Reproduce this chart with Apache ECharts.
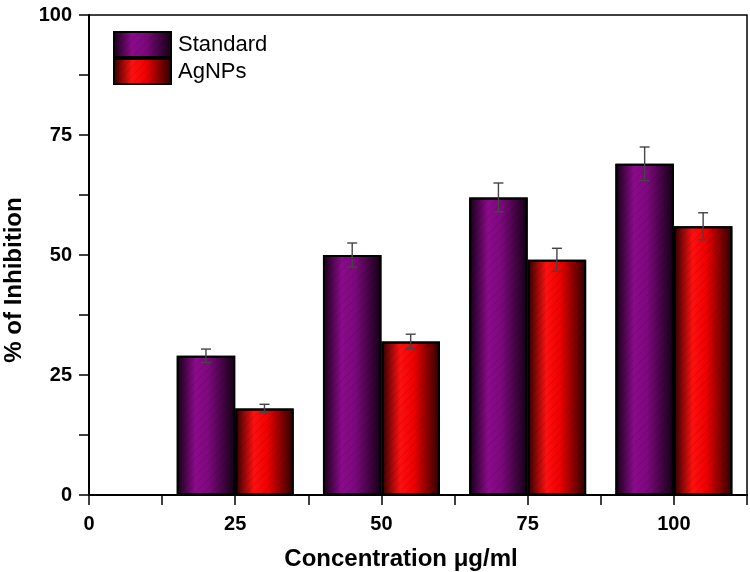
<!DOCTYPE html>
<html>
<head>
<meta charset="utf-8">
<script src="https://cdn.jsdelivr.net/npm/echarts@6/dist/echarts.min.js"></script>
<style>html,body{margin:0;padding:0;background:#fff}#c{width:750px;height:572px}</style>
</head>
<body>
<div id="c"></div>
<script>
const concentrations = [25, 50, 75, 100];
const standardValues = [29, 50, 62, 69];
const standardErrors = [1.4, 2.5, 3.0, 3.5];
const agnpsValues = [18, 32, 49, 56];
const agnpsErrors = [0.9, 1.5, 2.4, 2.8];
const xTicks = [0, 25, 50, 75, 100];
const yTicks = [0, 25, 50, 75, 100];

const barOffset = 5; // half of the 10-unit bar width in concentration units
const font = '"Liberation Sans", Arial, sans-serif';

function grad(dark, mid, bright) {
  return new echarts.graphic.LinearGradient(0, 0, 1, 0, [
    {offset: 0, color: dark},
    {offset: 0.32, color: bright},
    {offset: 0.55, color: mid},
    {offset: 1, color: dark}
  ]);
}
const purpleFill = grad('#120012', '#7c087c', '#8c0a8c');
const redFill = grad('#2a0000', '#f00000', '#ff1010');
const hatch = {symbol: 'rect', symbolSize: 1, dashArrayX: [1, 0], dashArrayY: [1, 5], rotation: -Math.PI / 4, color: 'rgba(0,0,0,0.10)'};

const stdData = concentrations.map((c, i) => [c - barOffset, standardValues[i]]);
const agData = concentrations.map((c, i) => [c + barOffset, agnpsValues[i]]);
const stdErr = concentrations.map((c, i) => [c - barOffset, standardValues[i], standardErrors[i]]);
const agErr = concentrations.map((c, i) => [c + barOffset, agnpsValues[i], agnpsErrors[i]]);

function errRender(params, api) {
  const x = api.value(0), y = api.value(1), e = api.value(2);
  const top = api.coord([x, y + e]);
  const bot = api.coord([x, y - e]);
  const w = 5;
  const style = {stroke: '#444', lineWidth: 1.4};
  return {type: 'group', children: [
    {type: 'line', shape: {x1: top[0], y1: top[1], x2: bot[0], y2: bot[1]}, style},
    {type: 'line', shape: {x1: top[0] - w, y1: top[1], x2: top[0] + w, y2: top[1]}, style},
    {type: 'line', shape: {x1: bot[0] - w, y1: bot[1], x2: bot[0] + w, y2: bot[1]}, style}
  ]};
}

const chart = echarts.init(document.getElementById('c'), null, {renderer: 'canvas'});
const gridLeft = 89, gridRight = 3;
const plotW = 750 - gridLeft - gridRight;
const barW = plotW / 112.5 * 10;

chart.setOption({
  animation: false,
  backgroundColor: '#fff',
  grid: {
    left: gridLeft, right: gridRight, top: 15, bottom: 77,
    containLabel: false, outerBoundsMode: 'none',
    show: true, borderColor: '#000', borderWidth: 1.5, backgroundColor: 'transparent'
  },
  legend: {
    orient: 'vertical', left: 113, top: 31, padding: 0, itemWidth: 57, itemHeight: 25, itemGap: 0,
    icon: 'rect',
    textStyle: {fontFamily: font, fontSize: 22, color: '#000', padding: [0, 0, 0, 2]},
    data: ['Standard', 'AgNPs']
  },
  xAxis: {
    type: 'value', min: 0, max: 112.5, interval: 12.5,
    splitLine: {show: false},
    axisLine: {show: true, onZero: false, lineStyle: {color: '#000', width: 2}},
    axisTick: {show: true, inside: false, length: 10, lineStyle: {color: '#000', width: 1.5}},
    axisLabel: {
      margin: 19, fontFamily: font, fontSize: 20, fontWeight: 'bold', color: '#000',
      formatter: v => xTicks.includes(v) ? String(v) : ''
    },
    name: 'Concentration \u03bcg/ml', nameLocation: 'middle', nameGap: 52,
    nameTextStyle: {fontFamily: font, fontSize: 24, fontWeight: 'bold', color: '#000', padding: [0, 34, 0, 0]}
  },
  yAxis: {
    type: 'value', min: 0, max: 100, interval: 12.5,
    splitLine: {show: false},
    axisLine: {show: true, lineStyle: {color: '#000', width: 2}},
    axisTick: {show: true, inside: false, length: 10, lineStyle: {color: '#000', width: 1.5}},
    axisLabel: {
      margin: 17, fontFamily: font, fontSize: 20, fontWeight: 'bold', color: '#000',
      formatter: v => yTicks.includes(v) ? String(v) : ''
    },
    name: '% of Inhibition', nameLocation: 'middle', nameGap: 63,
    nameTextStyle: {fontFamily: font, fontSize: 24, fontWeight: 'bold', color: '#000', padding: [0, 50, 0, 0]}
  },
  series: [
    {
      name: 'Standard', type: 'bar', data: stdData, barWidth: barW, barGap: '-100%',
      itemStyle: {color: purpleFill, borderColor: '#000', borderWidth: 2, decal: hatch}
    },
    {
      name: 'AgNPs', type: 'bar', data: agData, barWidth: barW, barGap: '-100%',
      itemStyle: {color: redFill, borderColor: '#000', borderWidth: 2, decal: hatch}
    },
    {type: 'custom', renderItem: errRender, data: stdErr, z: 5, encode: {x: 0, y: [1, 2]}},
    {type: 'custom', renderItem: errRender, data: agErr, z: 5, encode: {x: 0, y: [1, 2]}}
  ]
});
</script>
</body>
</html>
